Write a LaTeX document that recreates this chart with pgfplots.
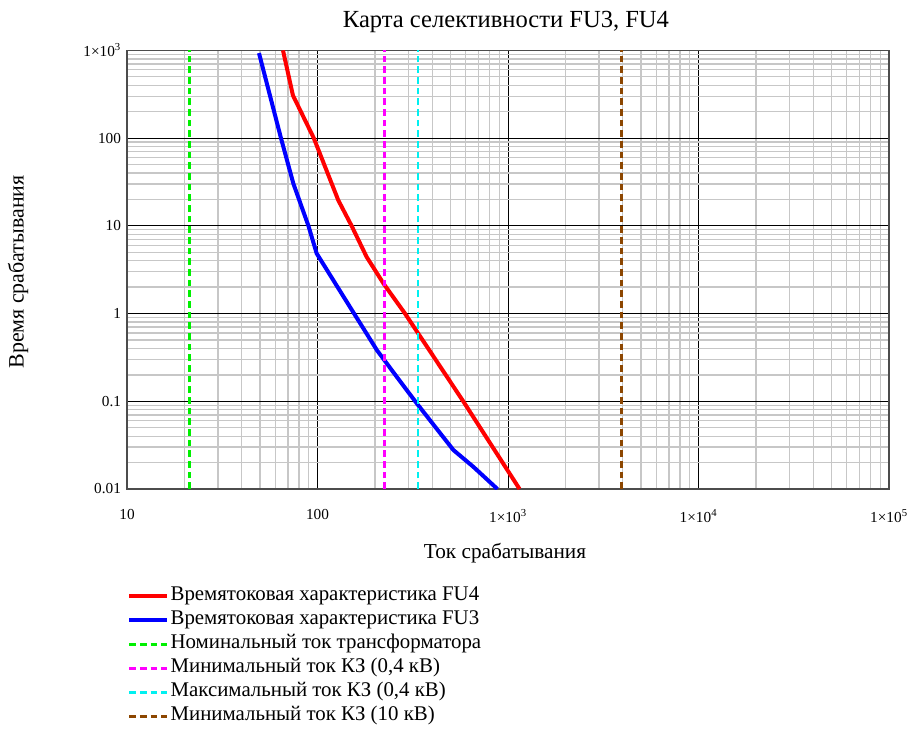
\documentclass[border=0pt]{standalone}
\usepackage{pgfplots}
\pgfplotsset{compat=1.18}
\usepackage{fontspec}
\setmainfont{Liberation Serif}
\definecolor{cgreen}{RGB}{0,240,0}
\definecolor{cmag}{RGB}{255,0,255}
\definecolor{ccyan}{RGB}{0,240,240}
\definecolor{cbrown}{RGB}{140,70,0}
\begin{document}
\begin{tikzpicture}[x=0.75bp,y=0.75bp]
\path[use as bounding box] (0,0) rectangle (914,-734);
\begin{axis}[
  at={(95.25bp,-366.75bp)}, anchor=south west,
  scale only axis, width=571.5bp, height=329bp,
  xmode=log, ymode=log,
  xmin=10, xmax=100000, ymin=0.01, ymax=1000,
  xtick={10,100,1000,10000,100000},
  xticklabels={10,100,1×10\textsuperscript{3},1×10\textsuperscript{4},1×10\textsuperscript{5}},
  ytick={0.01,0.1,1,10,100,1000},
  yticklabels={0.01,0.1,1,10,100,1×10\textsuperscript{3}},
  minor xtick={20,30,40,50,60,70,80,90,200,300,400,500,600,700,800,900,2000,3000,4000,5000,6000,7000,8000,9000,20000,30000,40000,50000,60000,70000,80000,90000},
  minor ytick={0.02,0.03,0.04,0.05,0.06,0.07,0.08,0.09,0.2,0.3,0.4,0.5,0.6,0.7,0.8,0.9,2,3,4,5,6,7,8,9,20,30,40,50,60,70,80,90,200,300,400,500,600,700,800,900},
  grid=both,
  major grid style={draw=black, line width=0.75bp},
  minor grid style={draw=black!22, line width=1bp},
  major tick length=0pt, minor tick length=0pt,
  axis line style={draw=black!70, line width=0.9bp},
  tick label style={font=\fontsize{11.5}{13}\selectfont},
  xticklabel style={yshift=-12bp},
  yticklabel style={xshift=-1bp},
  legend style={at={(rel axis cs:0,-0.216)}, anchor=north west, draw=none, fill=none,
    font=\fontsize{15.7}{17}\selectfont, row sep=0bp, inner sep=0pt,
    nodes={inner sep=1bp, text height=11.5bp, text depth=4.5bp}},
  legend cell align=left,
  legend image code/.code={\draw[#1] (0bp,0bp) -- (28.5bp,0bp);},
]
\addplot[red, line width=3bp] coordinates {
 (65.9,1000) (74.3,307) (95.6,100) (128.5,19.6) (151,10) (181,4.43) (222,2.2) (288,1) (582,0.1) (1150,0.01)};
\addlegendentry{Времятоковая характеристика FU4}
\addplot[blue, line width=3bp] coordinates {
 (49.3,930) (64.3,100) (74.7,30.3) (89.6,10) (99,4.84) (148,1.19) (205,0.383) (260.6,0.19) (332,0.0946) (517,0.0278) (658,0.0179) (880,0.01)};
\addlegendentry{Времятоковая характеристика FU3}
\addplot[cgreen, line width=2.2bp, dash pattern=on 5bp off 3bp] coordinates {(21.4,0.01) (21.4,1000)};
\addlegendentry{Номинальный ток трансформатора}
\addplot[cmag, line width=2.2bp, dash pattern=on 5bp off 3bp] coordinates {(226,0.01) (226,1000)};
\addlegendentry{Минимальный ток КЗ (0,4 кВ)}
\addplot[ccyan, line width=2.2bp, dash pattern=on 5bp off 3bp] coordinates {(337,0.01) (337,1000)};
\addlegendentry{Максимальный ток КЗ (0,4 кВ)}
\addplot[cbrown, line width=2.2bp, dash pattern=on 5bp off 3bp] coordinates {(3960,0.01) (3960,1000)};
\addlegendentry{Минимальный ток КЗ (10 кВ)}
\end{axis}
\node[font=\fontsize{18.5}{20}\selectfont] at (506,-22) {Карта селективности FU3, FU4};
\node[font=\fontsize{16}{18}\selectfont] at (505,-553) {Ток срабатывания};
\node[font=\fontsize{16.5}{18}\selectfont, rotate=90] at (18,-272) {Время срабатывания};
\end{tikzpicture}
\end{document}
